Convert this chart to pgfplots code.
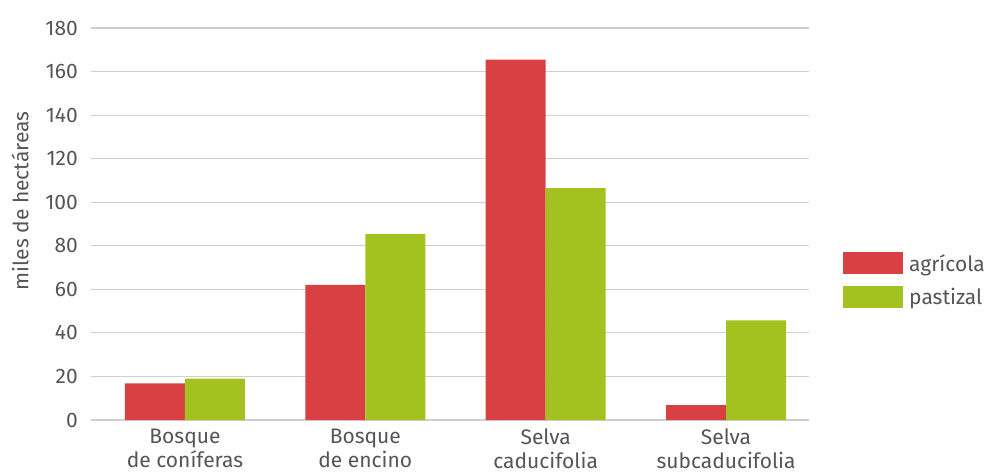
\documentclass[border=0pt]{standalone}
\usepackage{fontspec}
\setmainfont{Fira Sans}
\usepackage{pgfplots}
\pgfplotsset{compat=1.18}
\definecolor{cred}{HTML}{D94043}
\definecolor{cgreen}{HTML}{A3C21F}
\definecolor{ctext}{HTML}{555555}
\definecolor{cgrid}{HTML}{CFCFCF}
\begin{document}
\begin{tikzpicture}
\useasboundingbox (-91pt,-54pt) rectangle (893pt,420pt);
\begin{axis}[
  scale only axis, width=718pt, height=392pt,
  ymin=0, ymax=180, ytick={0,20,...,180},
  xmin=-0.521, xmax=3.46,
  xtick={0,1,2,3},
  xticklabels={{Bosque\\de coníferas},{Bosque\\de encino},{Selva\\caducifolia},{Selva\\subcaducifolia}},
  ybar=0pt, bar width=60pt,
  ymajorgrids, grid style={cgrid, line width=1.2pt},
  axis line style={draw=none}, major tick length=0pt, tick style={draw=none},
  /pgf/number format/assume math mode=true,
  ticklabel style={font=\fontsize{21}{24}\selectfont, text=ctext},
  yticklabel style={anchor=east, inner sep=0pt, xshift=-13pt},
  xticklabel style={align=center, anchor=north, inner sep=0pt, yshift=-9pt},
  ylabel={miles de hectáreas},
  ylabel style={at={(axis description cs:-0.0989,0.559)}, anchor=center, inner sep=0pt, font=\fontsize{21}{25}\selectfont, text=ctext},
  legend style={at={(axis description cs:1.0474,0.4286)}, anchor=north west, draw=none, fill=none, inner sep=0pt, row sep=11.5pt, column sep=6pt, font=\fontsize{21}{25}\selectfont, text=ctext, nodes={inner sep=0pt, anchor=base west}},
  legend image code/.code={\fill[#1] (0pt,-3pt) rectangle (60pt,19pt);},
]
\addplot[fill=cred, draw=none] coordinates {(0,16.8) (1,62) (2,165.5) (3,6.8)};
\addplot[fill=cgreen, draw=none] coordinates {(0,19) (1,85.3) (2,106.5) (3,45.8)};
\legend{agrícola, pastizal}
\end{axis}
\end{tikzpicture}
\end{document}
